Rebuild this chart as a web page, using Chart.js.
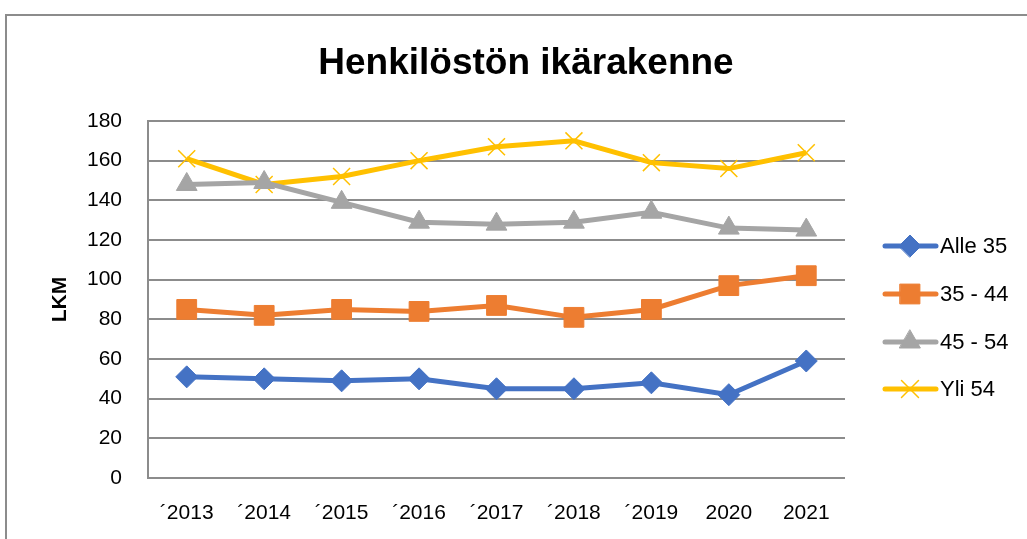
<!DOCTYPE html>
<html><head><meta charset="utf-8">
<script src="https://cdn.jsdelivr.net/npm/chart.js@4/dist/chart.umd.min.js"></script>
<style>
html,body{margin:0;padding:0;background:#fff;overflow:hidden}
#wrap{position:absolute;left:0;top:0;width:1027px;height:539px}
#frame{position:absolute;left:5px;top:14px;width:1100px;height:600px;border:2px solid #8c8c8c;box-sizing:border-box}
canvas{position:absolute;left:0;top:0}
</style></head>
<body><div id="wrap"><div id="frame"></div><canvas id="c" width="1027" height="539"></canvas></div>
<script>
const categories = ['\u00B42013','\u00B42014','\u00B42015','\u00B42016','\u00B42017','\u00B42018','\u00B42019','2020','2021'];
const alle35 = [51, 50, 49, 50, 45, 45, 48, 42, 59];
const v35_44 = [85, 82, 85, 84, 87, 81, 85, 97, 102];
const v45_54 = [148, 149, 139, 129, 128, 129, 134, 126, 125];
const yli54 = [161, 148, 152, 160, 167, 170, 159, 156, 164];
const seriesNames = ['Alle 35', '35 - 44', '45 - 54', 'Yli 54'];
const yTicks = [0, 20, 40, 60, 80, 100, 120, 140, 160, 180];
const chartTitle = 'Henkilöstön ikärakenne';

const FONT = "'Liberation Sans', Arial, sans-serif";

const titlePlugin = {
  id: 'customTitle',
  afterDraw(chart) {
    const ctx = chart.ctx;
    ctx.save();
    ctx.fillStyle = '#000';
    ctx.font = "bold 37px " + FONT;
    ctx.textAlign = 'center';
    ctx.textBaseline = 'middle';
    ctx.fillText(chartTitle, 526, 64);
    ctx.restore();
  }
};

const legendPlugin = {
  id: 'customLegend',
  afterDraw(chart) {
    const ctx = chart.ctx;
    const ys = [246, 294, 342, 389];
    chart.data.datasets.forEach((ds, i) => {
      const y = ys[i];
      ctx.save();
      ctx.strokeStyle = ds.borderColor;
      ctx.lineWidth = ds.borderWidth;
      ctx.lineCap = 'round';
      ctx.beginPath(); ctx.moveTo(885, y); ctx.lineTo(936, y); ctx.stroke();
      ctx.fillStyle = ds.pointBackgroundColor;
      ctx.strokeStyle = ds.pointBorderColor;
      ctx.lineWidth = ds.pointBorderWidth;
      Chart.helpers.drawPoint(ctx, {pointStyle: ds.pointStyle, rotation: 0, radius: ds.pointRadius, borderWidth: ds.pointBorderWidth}, 910, y);
      ctx.fillStyle = '#000';
      ctx.font = "22px " + FONT;
      ctx.textBaseline = 'middle';
      ctx.fillText(ds.label, 940, y + 1);
      ctx.restore();
    });
  }
};

const mk = (label, data, color, style, r, pbw) => ({
  label, data, borderColor: color, backgroundColor: color,
  pointBackgroundColor: color, pointBorderColor: color,
  pointStyle: style, pointRadius: r, pointHoverRadius: r,
  pointBorderWidth: pbw, borderWidth: 5, tension: 0, fill: false
});

new Chart(document.getElementById('c'), {
  type: 'line',
  data: {
    labels: categories,
    datasets: [
      mk(seriesNames[0], alle35, '#4472C4', 'rectRot', 11, 1),
      mk(seriesNames[1], v35_44, '#ED7D31', 'rect', 14, 1),
      mk(seriesNames[2], v45_54, '#A5A5A5', 'triangle', 12, 1),
      mk(seriesNames[3], yli54, '#FFC000', 'crossRot', 12, 1.5)
    ]
  },
  options: {
    responsive: false, animation: false, devicePixelRatio: 1,
    layout: { padding: { left: 0, right: 182, top: 121, bottom: 0 } },
    plugins: {
      legend: { display: false }, tooltip: { enabled: false }, title: { display: false }
    },
    scales: {
      x: {
        offset: true,
        grid: { display: false, drawTicks: false },
        border: { display: false },
        ticks: { color: '#000', font: { family: FONT, size: 21 }, padding: 23, maxRotation: 0 },
        afterFit(s) { s.height = 61; }
      },
      y: {
        min: 0, max: 180,
        afterBuildTicks(s) { s.ticks = yTicks.map(v => ({ value: v })); },
        grid: { color: '#8c8c8c', lineWidth: 2, drawTicks: false },
        border: { display: true, color: '#8c8c8c', width: 2 },
        ticks: { color: '#000', font: { family: FONT, size: 21 }, padding: 26 },
        title: { display: true, text: 'LKM', color: '#000', font: { family: FONT, size: 21, weight: 'bold' }, padding: { top: 48, bottom: 0 } },
        afterFit(s) { s.width = 148; }
      }
    }
  },
  plugins: [legendPlugin, titlePlugin]
});
</script>
</body></html>
